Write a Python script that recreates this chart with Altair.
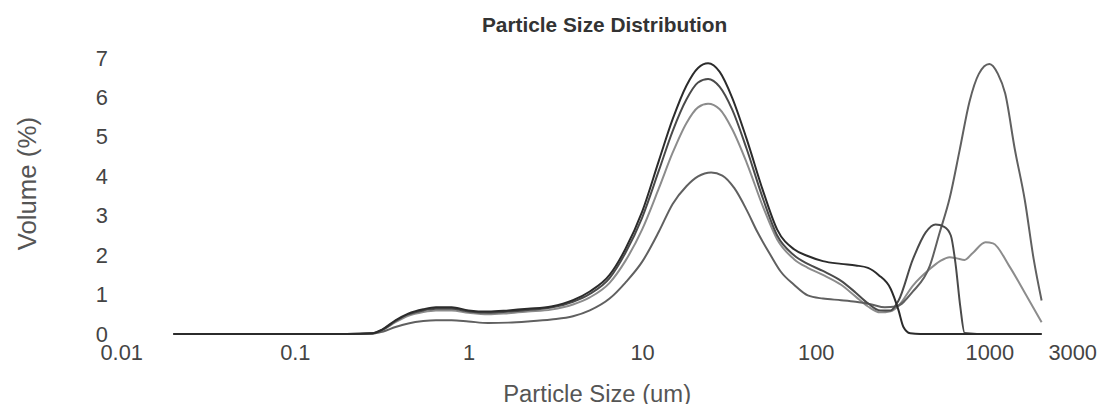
import altair as alt
import pandas as pd

# ---- data (particle size in um, volume in %) ----
sizes_a = [0.02, 0.1, 0.2, 0.28, 0.32, 0.38, 0.45, 0.55, 0.65, 0.8,
           1.0, 1.3, 1.7, 2.2, 3, 4, 5, 6.5, 8, 10,
           12.5, 15, 18, 21, 24, 28, 33, 40, 50, 60,
           75, 90, 110, 140, 170, 200, 230, 270, 300, 320,
           350, 400, 700, 1200, 2000]
vol_a = [0, 0, 0, 0.02, 0.12, 0.35, 0.52, 0.63, 0.68, 0.68,
         0.6, 0.57, 0.6, 0.64, 0.7, 0.86, 1.08, 1.5, 2.15, 3.1,
         4.4, 5.45, 6.3, 6.75, 6.87, 6.65, 6.0, 4.95, 3.6, 2.65,
         2.15, 1.98, 1.85, 1.78, 1.74, 1.68, 1.5, 1.15, 0.6, 0.18,
         0.02, 0, 0, 0, 0]

sizes_b = [0.02, 0.1, 0.2, 0.28, 0.32, 0.38, 0.45, 0.55, 0.65, 0.8,
           1.0, 1.3, 1.7, 2.2, 3, 4, 5, 6.5, 8, 10,
           12.5, 15, 18, 21, 24, 28, 33, 40, 50, 60,
           75, 90, 110, 140, 170, 200, 235, 270, 300, 363,
           430, 490, 550, 600, 640, 680, 720, 1000, 2000]
vol_b = [0, 0, 0, 0.02, 0.11, 0.33, 0.5, 0.6, 0.64, 0.64,
         0.57, 0.54, 0.57, 0.61, 0.67, 0.82, 1.02, 1.42, 2.05, 2.95,
         4.15, 5.15, 5.95, 6.38, 6.47, 6.27, 5.7, 4.7, 3.4, 2.5,
         2.0, 1.78, 1.6, 1.35, 1.05, 0.78, 0.6, 0.6, 0.85, 1.9,
         2.58, 2.78, 2.72, 2.5, 1.75, 0.7, 0.03, 0, 0]

sizes_c = [0.02, 0.1, 0.2, 0.28, 0.32, 0.38, 0.45, 0.55, 0.65, 0.8,
           1.0, 1.3, 1.7, 2.2, 3, 4, 5, 6.5, 8, 10,
           12.5, 15, 18, 21, 24, 28, 33, 40, 50, 60,
           75, 90, 110, 140, 170, 200, 235, 270, 300, 363,
           454, 520, 591, 650, 720, 800, 950, 1050, 1300, 1600,
           2000]
vol_c = [0, 0, 0, 0.02, 0.1, 0.3, 0.46, 0.56, 0.6, 0.6,
         0.54, 0.5, 0.53, 0.57, 0.62, 0.75, 0.93, 1.3, 1.85, 2.65,
         3.7, 4.6, 5.35, 5.75, 5.84, 5.7, 5.2, 4.35, 3.2, 2.4,
         1.9, 1.68, 1.5, 1.25, 0.95, 0.7, 0.55, 0.58, 0.72, 1.23,
         1.65, 1.85, 1.95, 1.92, 1.88, 2.05, 2.33, 2.3, 1.73, 1.05,
         0.3]

sizes_d = [0.02, 0.1, 0.2, 0.28, 0.32, 0.38, 0.45, 0.55, 0.65, 0.8,
           1.0, 1.3, 1.7, 2.2, 3, 4, 5, 6.5, 8, 10,
           12.5, 15, 18, 21, 25, 29, 34, 40, 46, 55,
           63, 75, 90, 110, 140, 170, 210, 250, 290, 363,
           454, 518, 591, 674, 769, 870, 1000, 1120, 1234, 1400,
           1600, 1800, 2000]
vol_d = [0, 0, 0, 0.01, 0.06, 0.18, 0.27, 0.33, 0.35, 0.35,
         0.32, 0.28, 0.29, 0.32, 0.37, 0.45, 0.6, 0.9, 1.3, 1.83,
         2.6, 3.3, 3.75, 4.0, 4.1, 4.02, 3.7, 3.15, 2.6, 2.0,
         1.58, 1.25, 0.98, 0.9, 0.86, 0.82, 0.75, 0.68, 0.7, 1.08,
         1.73, 2.58, 3.45, 4.66, 5.9, 6.6, 6.85, 6.6, 6.1, 4.7,
         3.4, 1.9, 0.85]

series_names = ["Sample C", "Sample D", "Sample B", "Sample A"]
series_colors = ["#8c8c8c", "#606060", "#4a4a4a", "#2b2b2b"]

x_ticks = [0.01, 0.1, 1, 10, 100, 1000, 3000]
y_ticks = [0, 1, 2, 3, 4, 5, 6, 7]

rows = []
for name, xs, ys in [("Sample C", sizes_c, vol_c), ("Sample D", sizes_d, vol_d),
                     ("Sample B", sizes_b, vol_b), ("Sample A", sizes_a, vol_a)]:
    for i, (x, y) in enumerate(zip(xs, ys)):
        rows.append({"series": name, "size": x, "volume": y, "i": i})
df = pd.DataFrame(rows)

FONT = "Liberation Sans"

chart = alt.Chart(df).mark_line(interpolate="monotone", strokeWidth=2).encode(
    x=alt.X("size:Q",
            scale=alt.Scale(type="log", domain=[0.01, 3000], nice=False),
            axis=alt.Axis(values=x_ticks, format="~g", title="Particle Size (um)",
                          labelPadding=9, titlePadding=19, titleFontSize=24,
                          labelOverlap=False, labelFlush=False)),
    y=alt.Y("volume:Q",
            scale=alt.Scale(domain=[0, 7], nice=False),
            axis=alt.Axis(values=y_ticks, title="Volume (%)", labelPadding=14,
                          titleFontSize=26, titleX=-81, titleY=126)),
    color=alt.Color("series:N",
                    scale=alt.Scale(domain=series_names, range=series_colors),
                    legend=None),
    order="i:Q",
).properties(
    width=958, height=278,
    title=alt.TitleParams("Particle Size Distribution", fontSize=21, fontWeight="bold",
                          font=FONT, color="#333333", offset=11, anchor="middle", dx=8),
    autosize=alt.AutoSizeParams(type="none"),
    padding={"left": 114, "top": 49, "right": 27, "bottom": 69},
).configure_view(stroke=None).configure_axis(
    grid=False, domain=False, ticks=False,
    labelFont=FONT, labelFontSize=22, labelColor="#444444",
    titleFont=FONT, titleFontWeight="normal", titleColor="#555555",
)

chart.save("out.html", embed_options={"renderer": "svg", "actions": False})
